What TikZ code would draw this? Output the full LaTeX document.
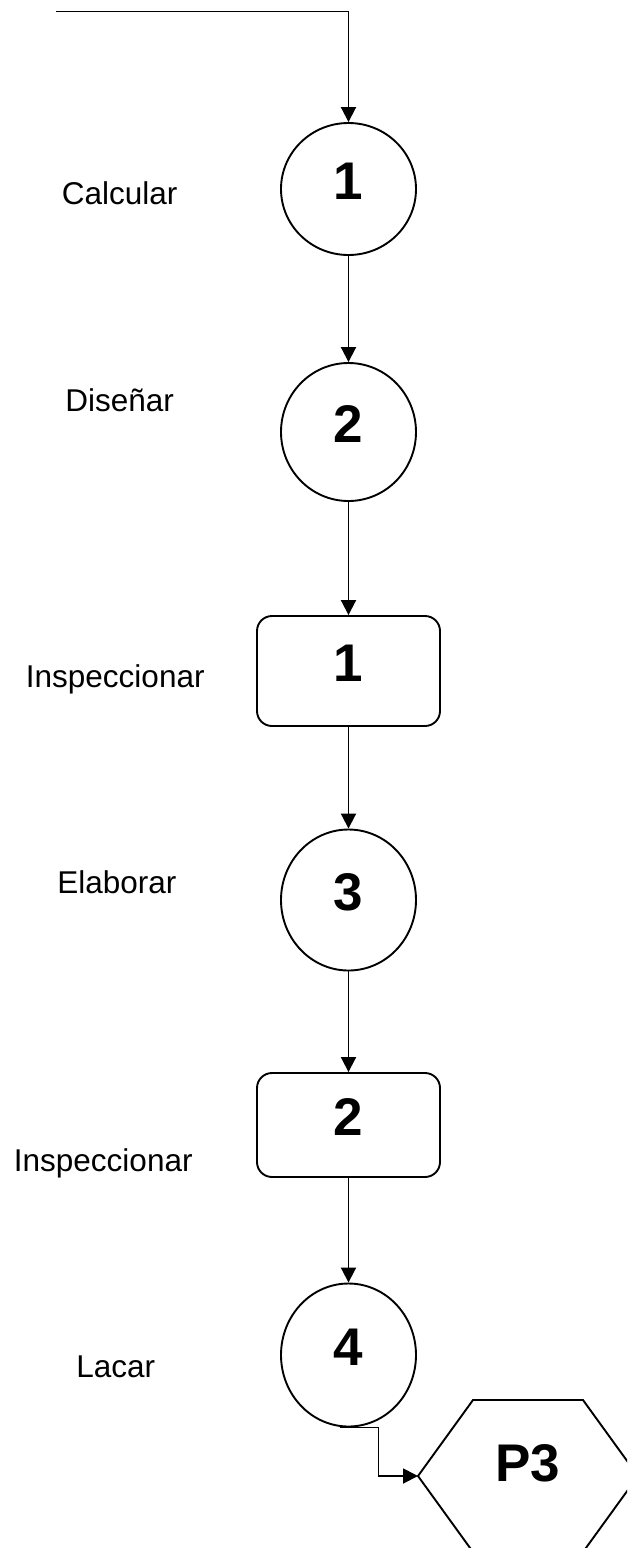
\documentclass[tikz,border=0pt]{standalone}
\usepackage{fontspec}
\setmainfont{Liberation Sans}
\usetikzlibrary{shapes.geometric,arrows.meta}
\begin{document}
\begin{tikzpicture}[x=1pt,y=-1pt,
  line width=1.9pt,
  arr/.style={-{Triangle[length=15pt,width=15pt]}},
  opcircle/.style={draw,ellipse,minimum width=135pt,inner sep=0pt,
    font=\fontsize{53}{53}\selectfont\bfseries,text depth=16pt},
  inspbox/.style={draw,rectangle,rounded corners=15pt,minimum width=183pt,inner sep=0pt,
    font=\fontsize{53}{53}\selectfont\bfseries,text depth=16pt},
  steplabel/.style={anchor=base west,inner sep=0pt,font=\fontsize{31.5}{32}\selectfont},
  hexlabel/.style={inner sep=0pt,font=\fontsize{53}{53}\selectfont\bfseries}]
\useasboundingbox (0,0) rectangle (627,1548);
\clip (0,0) rectangle (627,1548);
\fill[white] (0,0) rectangle (627,1548);

\coordinate (start) at (56,11.5);
\node[opcircle,minimum height=132pt] (c1) at (348.5,189) {1};
\node[opcircle,minimum height=138pt] (c2) at (348.5,432) {2};
\node[inspbox,minimum height=110pt] (b1) at (348.5,671) {1};
\node[opcircle,minimum height=141pt] (c3) at (348.5,900) {3};
\node[inspbox,minimum height=104pt] (b2) at (348.5,1125) {2};
\node[opcircle,minimum height=143pt] (c4) at (348.5,1355) {4};

\node[steplabel] (l1) at (61,204) {Calcular};
\node[steplabel] (l2) at (64.5,411) {Diseñar};
\node[steplabel] (l3) at (25,687) {Inspeccionar};
\node[steplabel] (l4) at (56.5,893) {Elaborar};
\node[steplabel] (l5) at (13,1171) {Inspeccionar};
\node[steplabel] (l6) at (75.5,1377) {Lacar};

\coordinate (hexW) at (418,1476);
\draw (hexW) -- (473,1400) -- (583,1400) -- (638,1476) -- (583,1552) -- (473,1552) -- cycle;
\node[hexlabel] (p3) at (528,1463) {P3};

\draw[arr] (start) -| (c1.north);
\draw[arr] (c1.south) -- (c2.north);
\draw[arr] (c2.south) -- (b1.north);
\draw[arr] (b1.south) -- (c3.north);
\draw[arr] (c3.south) -- (b2.north);
\draw[arr] (b2.south) -- (c4.north);
\draw[arr] ([xshift=-9pt]c4.south) -- ++(39,0) |- (hexW);
\end{tikzpicture}
\end{document}
